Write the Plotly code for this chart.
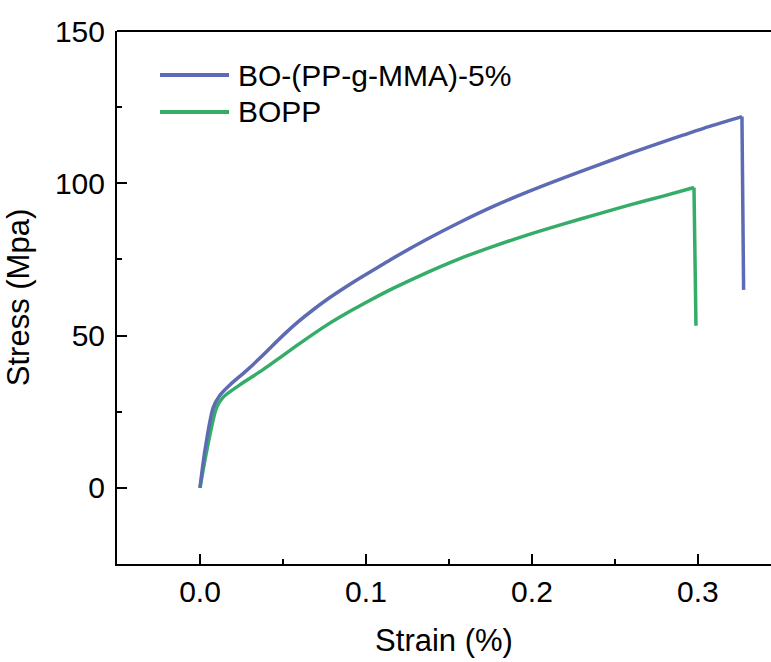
import plotly.graph_objects as go

# Data
blue_strain = [0, 0.003, 0.008, 0.012, 0.018, 0.028, 0.038, 0.048, 0.058, 0.068, 0.078,
               0.0885, 0.0964, 0.108, 0.1163, 0.1367, 0.1566, 0.1767, 0.197, 0.2187,
               0.239, 0.259, 0.279, 0.291, 0.307, 0.3265, 0.3275]
blue_stress = [0, 12.4, 26.4, 30.4, 33.8, 38.5, 43.6, 49.0, 54.0, 58.4, 62.4,
               66.2, 68.9, 72.7, 75.4, 81.6, 87.2, 92.4, 97.1, 101.7,
               105.8, 109.8, 113.6, 115.8, 118.7, 121.9, 65]

green_strain = [0, 0.004, 0.010, 0.014, 0.024, 0.038, 0.048, 0.058, 0.068, 0.078,
                0.0885, 0.0964, 0.108, 0.1163, 0.1367, 0.1566, 0.1767, 0.197, 0.2187,
                0.239, 0.259, 0.279, 0.2976, 0.2988]
green_stress = [0, 12, 26.4, 29.8, 33.8, 38.8, 42.7, 46.6, 50.4, 54.0,
                57.4, 59.8, 63.2, 65.5, 70.7, 75.3, 79.3, 83.0, 86.6,
                89.8, 92.9, 95.8, 98.6, 53.2]

series_names = ["BO-(PP-g-MMA)-5%", "BOPP"]
series_colors = ["#5C6BB4", "#35AD68"]

x_tickvals = [0, 0.1, 0.2, 0.3]
x_ticktext = ["0.0", "0.1", "0.2", "0.3"]
y_tickvals = [0, 50, 100, 150]

FONT = "Liberation Sans, Arial, sans-serif"
W, H = 771, 662
ML, MR, MT, MB = 117, 0, 31, 98
PW, PH = W - ML - MR, H - MT - MB

fig = go.Figure()
for xs, ys, name, color in [(green_strain, green_stress, series_names[1], series_colors[1]),
                            (blue_strain, blue_stress, series_names[0], series_colors[0])]:
    # smooth loading curve up to the break point
    fig.add_trace(go.Scatter(x=xs[:-1], y=ys[:-1], mode="lines", name=name,
                             line=dict(color=color, width=3.5, shape="spline", smoothing=0.8),
                             showlegend=False))
    # sharp drop at fracture
    fig.add_trace(go.Scatter(x=xs[-2:], y=ys[-2:], mode="lines", name=name,
                             line=dict(color=color, width=3.5), showlegend=False))

def px_x(p):
    return (p - ML) / PW

def px_y(p):
    return (H - MB - p) / PH

shapes = [dict(type="line", xref="paper", yref="paper", x0=0, x1=1, y0=1, y1=1,
               line=dict(color="black", width=2))]
annotations = []
legend_rows = [75, 112]
for name, color, ry in zip(series_names, series_colors, legend_rows):
    shapes.append(dict(type="line", xref="paper", yref="paper",
                       x0=px_x(160), x1=px_x(229), y0=px_y(ry), y1=px_y(ry),
                       line=dict(color=color, width=4)))
    annotations.append(dict(text=name, xref="paper", yref="paper", x=px_x(236), y=px_y(ry),
                            xanchor="left", yanchor="middle", showarrow=False,
                            font=dict(family=FONT, size=30, color="black")))

fig.update_layout(
    width=W, height=H,
    margin=dict(l=ML, r=MR, t=MT, b=MB),
    paper_bgcolor="white", plot_bgcolor="white",
    font=dict(family=FONT, size=30, color="black"),
    shapes=shapes, annotations=annotations,
    xaxis=dict(range=[-0.05, 0.344], tickvals=x_tickvals, ticktext=x_ticktext,
               showline=True, linecolor="black", linewidth=2, showgrid=False, zeroline=False,
               ticks="inside", ticklen=10, tickwidth=2, tickcolor="black",
               minor=dict(dtick=0.05, tick0=0, ticks="inside", ticklen=5, tickwidth=2, tickcolor="black"),
               tickfont=dict(family=FONT, size=30),
               title=dict(text="Strain (%)", font=dict(family=FONT, size=31), standoff=22)),
    yaxis=dict(range=[-25, 150], tickvals=y_tickvals,
               showline=True, linecolor="black", linewidth=2, showgrid=False, zeroline=False,
               ticks="inside", ticklen=10, tickwidth=2, tickcolor="black",
               minor=dict(dtick=25, tick0=0, ticks="inside", ticklen=5, tickwidth=2, tickcolor="black"),
               tickfont=dict(family=FONT, size=30), ticklabelstandoff=4,
               title=dict(text="Stress (Mpa)", font=dict(family=FONT, size=31), standoff=16)),
)

fig.write_html("out.html")
